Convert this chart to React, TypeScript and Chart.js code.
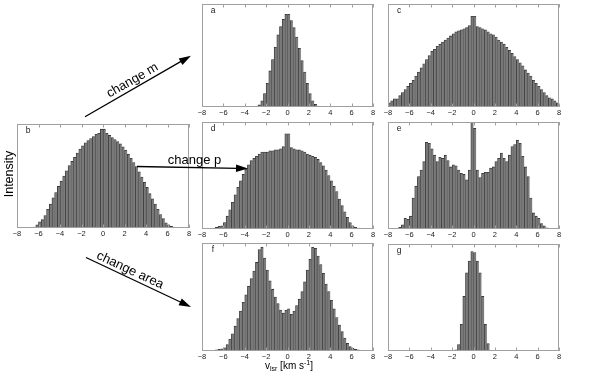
import React, { useEffect, useRef } from "react";
import { Chart, registerables } from "chart.js";
Chart.register(...registerables);

// ---------- data ----------
const BIN_START = -8;
const BIN_WIDTH = 0.25;
const BIN_COUNT = 64;
const binCenters = Array.from({ length: BIN_COUNT }, (_, i) => BIN_START + BIN_WIDTH * (i + 0.5));
const X_MIN = -8;
const X_MAX = 8;
const X_STEP = 2;

const panelA = [
  0, 0, 0, 0, 0, 0, 0, 0, 0, 0, 0, 0, 0, 0, 0, 0, 0, 0, 0, 0,
  0.7, 2, 6, 13, 23, 35, 46, 58, 70, 78, 85, 90, 90, 84, 77, 68, 57, 45, 34, 23, 13, 6, 2.5, 1, 0.4,
  0, 0, 0, 0, 0, 0, 0, 0, 0, 0, 0, 0, 0, 0, 0, 0, 0, 0, 0,
];
const panelB = [
  0, 0, 0, 0,
  0.3, 0.5, 1, 3, 6, 8, 12, 18, 23, 29, 34, 40, 45, 50, 55, 60, 64, 68, 72, 76, 79, 82, 84, 86, 88, 90, 91, 95,
  95, 91, 89, 87, 85, 83, 81, 78, 75, 71, 67, 63, 59, 54, 49, 44, 39, 33, 28, 23, 18, 13, 9, 5, 3, 1.5, 0.8, 0.4,
  0, 0, 0, 0,
];
const panelC = [
  4, 6, 8, 8, 11, 14, 17, 20, 23, 26, 30, 34, 38, 42, 46, 50, 54, 56, 59, 61, 63, 65, 67, 69, 71, 73, 74, 75, 76, 77, 79, 88,
  88, 78, 77, 76, 75, 73, 71, 70, 68, 65, 63, 61, 58, 55, 52, 49, 46, 43, 40, 36, 33, 30, 26, 23, 20, 17, 14, 11, 9, 8, 6, 4,
];
const panelD = [
  0, 0, 0, 0,
  0.5, 1.5, 2.5, 3, 6, 12, 18, 25, 32, 39, 45, 51, 56, 60, 64, 66, 68, 70, 72, 72, 72, 73, 73, 74, 74, 75, 77, 89,
  89, 76, 75, 74, 74, 73, 72, 70, 69, 68, 67, 65, 62, 59, 55, 50, 45, 40, 35, 28, 22, 16, 11, 6, 3, 1.5, 0.8, 0.3,
  0, 0, 0, 0,
];
const panelE = [
  0, 0, 0, 0,
  1.5, 4, 10, 9, 12, 29, 40, 49, 55, 63, 81, 80, 75, 69, 63, 67, 66, 69, 64, 58, 60, 59, 55, 52, 51, 46, 55, 100,
  94, 55, 48, 52, 53, 53, 57, 58, 63, 66, 71, 66, 63, 69, 77, 79, 83, 80, 68, 58, 49, 29, 15, 12, 10, 5, 3, 1,
  0, 0, 0, 0,
];
const panelF = [
  0, 0, 0, 0,
  0.5, 1, 1.5, 2, 3, 6, 11, 16, 23, 30, 37, 45, 52, 60, 67, 74, 82, 94, 96, 86, 75, 65, 57, 50, 44, 38, 35, 38,
  39, 34, 37, 42, 48, 55, 64, 75, 85, 96, 95, 88, 80, 72, 62, 55, 47, 39, 31, 24, 18, 12, 7, 4, 2.5, 1.5, 1, 0.5,
  0, 0, 0, 0,
];
const panelG = [
  0, 0, 0, 0, 0, 0, 0, 0, 0, 0, 0, 0, 0, 0, 0, 0, 0, 0, 0, 0, 0, 0, 0, 0, 0,
  1, 6, 25, 51, 73, 84, 93, 92, 84, 73, 51, 25, 7, 0.5,
  0, 0, 0, 0, 0, 0, 0, 0, 0, 0, 0, 0, 0, 0, 0, 0, 0, 0, 0, 0, 0, 0, 0, 0, 0,
];

// ---------- layout / style ----------
const PAD_X = 12;
const PAD_T = 2;
const AXIS_H = 14;
const FILL = "#7a7a7a";
const EDGE = "#333333";
const FRAME = "#a0a0a0";
const TICK_FONT = "'Liberation Sans', Arial, sans-serif";
const ANNO_FONT = "'Liberation Sans', Arial, sans-serif";

const PANELS = [
  { letter: "a", values: panelA, left: 202, top: 4, w: 171, h: 103 },
  { letter: "c", values: panelC, left: 388, top: 4, w: 171, h: 103 },
  { letter: "b", values: panelB, left: 17, top: 124, w: 172, h: 104 },
  { letter: "d", values: panelD, left: 202, top: 122, w: 171, h: 107 },
  { letter: "e", values: panelE, left: 388, top: 122, w: 171, h: 107 },
  { letter: "f", values: panelF, left: 202, top: 243, w: 171, h: 108 },
  { letter: "g", values: panelG, left: 388, top: 244, w: 171, h: 107 },
];

const framePlugin = {
  id: "panelFrame",
  afterDraw(chart: any, _args: any, opts: any) {
    const { ctx, chartArea } = chart;
    const { left, right, top, bottom } = chartArea;
    const x = chart.scales.x;
    ctx.save();
    ctx.strokeStyle = FRAME;
    ctx.lineWidth = 1;
    ctx.strokeRect(Math.round(left) + 0.5, Math.round(top) + 0.5, Math.round(right - left) - 1, Math.round(bottom - top) - 1);
    ctx.beginPath();
    for (let v = X_MIN; v <= X_MAX; v += X_STEP) {
      const px = Math.round(x.getPixelForValue(v)) + 0.5;
      ctx.moveTo(px, top);
      ctx.lineTo(px, top + 3.5);
      ctx.moveTo(px, bottom);
      ctx.lineTo(px, bottom - 3.5);
    }
    ctx.stroke();
    ctx.fillStyle = "#222";
    ctx.font = `8.5px ${TICK_FONT}`;
    ctx.textAlign = "center";
    ctx.textBaseline = "middle";
    ctx.fillText(opts.letter || "", left + 11, top + 7);
    ctx.restore();
  },
};

function Panel({ letter, values, left, top, w, h }: any) {
  const ref = useRef<HTMLCanvasElement>(null);
  useEffect(() => {
    const chart = new Chart(ref.current as HTMLCanvasElement, {
      type: "bar",
      data: {
        datasets: [
          {
            data: binCenters.map((x, i) => ({ x, y: values[i] })),
            backgroundColor: FILL,
            borderColor: EDGE,
            borderWidth: { left: 0.8, top: 0.8, right: 0, bottom: 0 },
            borderSkipped: false,
            barPercentage: 1,
            categoryPercentage: 1,
          } as any,
        ],
      },
      options: {
        animation: false,
        responsive: false,
        maintainAspectRatio: false,
        layout: { padding: { left: PAD_X, right: PAD_X, top: PAD_T, bottom: 0 } },
        plugins: {
          legend: { display: false },
          tooltip: { enabled: false },
          panelFrame: { letter },
        } as any,
        scales: {
          x: {
            type: "linear",
            min: X_MIN,
            max: X_MAX,
            offset: false,
            grid: { display: false, drawTicks: false },
            border: { display: false },
            afterFit: (s: any) => {
              s.height = AXIS_H;
              s.paddingLeft = 0;
              s.paddingRight = 0;
            },
            ticks: {
              stepSize: X_STEP,
              autoSkip: false,
              maxRotation: 0,
              padding: 1,
              color: "#222",
              font: { family: TICK_FONT, size: 7.5 },
              callback: (v: any) => String(v).replace("-", "\u2212"),
            },
          },
          y: { display: false, min: 0, max: 100 },
        },
      } as any,
      plugins: [framePlugin],
    });
    return () => chart.destroy();
  }, []);
  return (
    <canvas
      ref={ref}
      width={w + 2 * PAD_X}
      height={h + PAD_T + AXIS_H}
      style={{ position: "absolute", left: left - PAD_X, top: top - PAD_T, width: w + 2 * PAD_X, height: h + PAD_T + AXIS_H }}
    />
  );
}

function Arrow({ x1, y1, x2, y2, len = 12, half = 3.8 }: any) {
  const dx = x2 - x1;
  const dy = y2 - y1;
  const L = Math.hypot(dx, dy);
  const ux = dx / L;
  const uy = dy / L;
  const bx = x2 - ux * len;
  const by = y2 - uy * len;
  const nx = -uy;
  const ny = ux;
  return (
    <g>
      <line x1={x1} y1={y1} x2={bx + ux * 2} y2={by + uy * 2} stroke="#000" strokeWidth={1.3} />
      <polygon points={`${x2},${y2} ${bx + nx * half},${by + ny * half} ${bx - nx * half},${by - ny * half}`} fill="#000" />
    </g>
  );
}

export default function App() {
  return (
    <div style={{ position: "absolute", left: 0, top: 0, width: 598, height: 374, background: "#fff", overflow: "hidden" }}>
      {PANELS.map((p) => (
        <Panel key={p.letter} {...p} />
      ))}
      <svg width={598} height={374} style={{ position: "absolute", left: 0, top: 0, pointerEvents: "none" }}>
        <Arrow x1={85} y1={116.7} x2={191} y2={55.7} />
        <Arrow x1={137} y1={166.5} x2={248} y2={168.5} />
        <Arrow x1={86} y1={257.5} x2={191} y2={307} />
        <text x={134.2} y={83.6} transform="rotate(-30 134.2 83.6)" textAnchor="middle" fontFamily={ANNO_FONT} fontSize={13}>
          change m
        </text>
        <text x={194.5} y={163.5} textAnchor="middle" fontFamily={ANNO_FONT} fontSize={13}>
          change p
        </text>
        <text x={128.5} y={273.5} transform="rotate(25 128.5 273.5)" textAnchor="middle" fontFamily={ANNO_FONT} fontSize={13}>
          change area
        </text>
        <text x={12.5} y={174} transform="rotate(-90 12.5 174)" textAnchor="middle" fontFamily={ANNO_FONT} fontSize={12.5}>
          Intensity
        </text>
        <text x={289} y={369} textAnchor="middle" fontFamily={ANNO_FONT} fontSize={10}>
          <tspan>v</tspan>
          <tspan fontSize={7} dy={2}>lsr</tspan>
          <tspan dy={-2}> [km s</tspan>
          <tspan fontSize={7} dy={-4}>-1</tspan>
          <tspan dy={4}>]</tspan>
        </text>
      </svg>
    </div>
  );
}
